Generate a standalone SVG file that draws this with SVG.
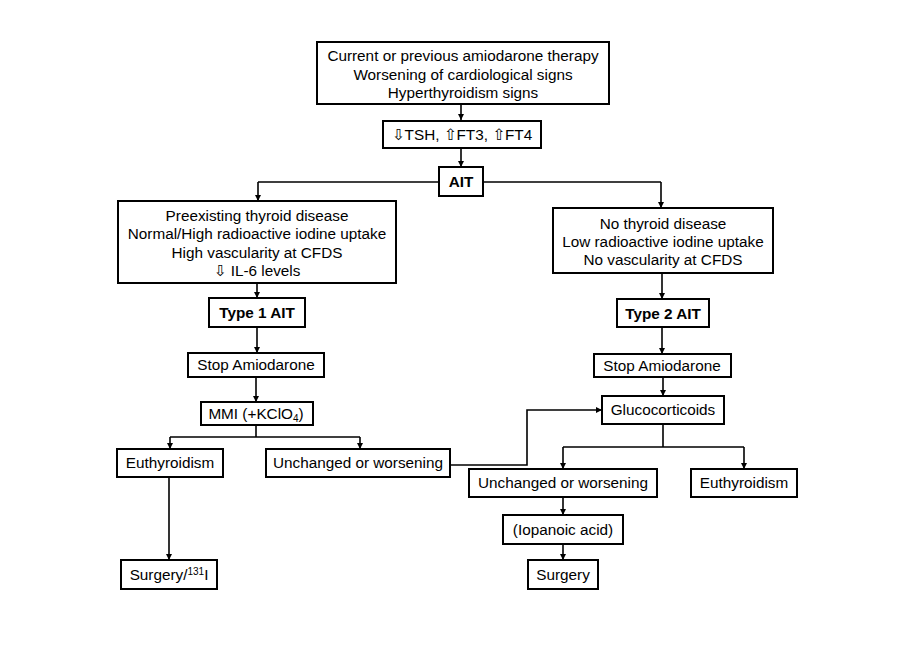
<svg xmlns="http://www.w3.org/2000/svg" width="923" height="652" viewBox="0 0 923 652">
<style>
.b{fill:#fff;stroke:#000;stroke-width:2}
.t{font-family:"Liberation Sans","DejaVu Sans",Arial,sans-serif;font-size:15.3px;fill:#000;text-anchor:middle}
.bold{font-weight:bold}
.c{fill:none;stroke:#000;stroke-width:1.6}
</style>
<defs>
<marker id="a" viewBox="0 0 10 10" refX="10" refY="5" markerWidth="6" markerHeight="6" orient="auto" markerUnits="userSpaceOnUse">
<path d="M0,0 L10,5 L0,10 z" fill="#000"/>
</marker>
</defs>
<rect width="923" height="652" fill="#fff"/>
<g id="connectors">
<path class="c" d="M461,104 V120" marker-end="url(#a)"/>
<path class="c" d="M461,149 V167" marker-end="url(#a)"/>
<path class="c" d="M258,182 H439 M483,182 H661"/>
<path class="c" d="M258,182 V201" marker-end="url(#a)"/>
<path class="c" d="M661,182 V208" marker-end="url(#a)"/>
<path class="c" d="M257,283 V298" marker-end="url(#a)"/>
<path class="c" d="M662,273 V299" marker-end="url(#a)"/>
<path class="c" d="M257,327 V353" marker-end="url(#a)"/>
<path class="c" d="M662,327 V354" marker-end="url(#a)"/>
<path class="c" d="M256,377 V402" marker-end="url(#a)"/>
<path class="c" d="M663,377 V396" marker-end="url(#a)"/>
<path class="c" d="M256,425 V437 M170,437 H360"/>
<path class="c" d="M170,437 V449" marker-end="url(#a)"/>
<path class="c" d="M360,437 V449" marker-end="url(#a)"/>
<path class="c" d="M450,465 H527 V410 H602" marker-end="url(#a)"/>
<path class="c" d="M663,424 V447 M563,447 H744"/>
<path class="c" d="M563,447 V469" marker-end="url(#a)"/>
<path class="c" d="M744,447 V469" marker-end="url(#a)"/>
<path class="c" d="M169,477 V560" marker-end="url(#a)"/>
<path class="c" d="M563,497 V515" marker-end="url(#a)"/>
<path class="c" d="M563,544 V560" marker-end="url(#a)"/>
</g>
<g id="n1"><rect class="b" x="317" y="42" width="292" height="62"/>
<text class="t" x="463" y="61">Current or previous amiodarone therapy</text>
<text class="t" x="463" y="80">Worsening of cardiological signs</text>
<text class="t" x="463" y="98">Hyperthyroidism signs</text></g>
<g id="n2"><rect class="b" x="383" y="121" width="158" height="27"/>
<text class="t" x="462" y="140">⇩TSH, ⇧FT3, ⇧FT4</text></g>
<g id="n3"><rect class="b" x="439" y="167" width="44" height="29"/>
<text class="t bold" x="461" y="187">AIT</text></g>
<g id="n4"><rect class="b" x="118" y="201" width="278" height="82"/>
<text class="t" x="257" y="221">Preexisting thyroid disease</text>
<text class="t" x="257" y="239">Normal/High radioactive iodine uptake</text>
<text class="t" x="257" y="258">High vascularity at CFDS</text>
<text class="t" x="257" y="276">⇩ IL-6 levels</text></g>
<g id="n5"><rect class="b" x="553" y="208" width="220" height="65"/>
<text class="t" x="663" y="229">No thyroid disease</text>
<text class="t" x="663" y="247">Low radioactive iodine uptake</text>
<text class="t" x="663" y="265">No vascularity at CFDS</text></g>
<g id="n6"><rect class="b" x="209" y="298" width="96" height="29"/>
<text class="t bold" x="257" y="318">Type 1 AIT</text></g>
<g id="n7"><rect class="b" x="617" y="299" width="92" height="28"/>
<text class="t bold" x="663" y="319">Type 2 AIT</text></g>
<g id="n8"><rect class="b" x="188" y="353" width="136" height="24"/>
<text class="t" x="256" y="370">Stop Amiodarone</text></g>
<g id="n9"><rect class="b" x="594" y="354" width="137" height="23"/>
<text class="t" x="662" y="371">Stop Amiodarone</text></g>
<g id="n10"><rect class="b" x="201" y="402" width="112" height="23"/>
<text class="t" x="256" y="419">MMI (+KClO<tspan font-size="10" dy="3">4</tspan><tspan dy="-3">)</tspan></text></g>
<g id="n11"><rect class="b" x="602" y="396" width="122" height="28"/>
<text class="t" x="663" y="415">Glucocorticoids</text></g>
<g id="n12"><rect class="b" x="117" y="449" width="106" height="28"/>
<text class="t" x="170" y="468">Euthyroidism</text></g>
<g id="n13"><rect class="b" x="266" y="449" width="184" height="28"/>
<text class="t" x="358" y="468">Unchanged or worsening</text></g>
<g id="n14"><rect class="b" x="469" y="469" width="188" height="28"/>
<text class="t" x="563" y="488">Unchanged or worsening</text></g>
<g id="n15"><rect class="b" x="691" y="469" width="106" height="28"/>
<text class="t" x="744" y="488">Euthyroidism</text></g>
<g id="n16"><rect class="b" x="503" y="515" width="120" height="29"/>
<text class="t" x="563" y="535">(Iopanoic acid)</text></g>
<g id="n17"><rect class="b" x="528" y="560" width="70" height="29"/>
<text class="t" x="563" y="580">Surgery</text></g>
<g id="n18"><rect class="b" x="121" y="560" width="96" height="29"/>
<text class="t" x="169" y="580">Surgery/<tspan font-size="10" dy="-5">131</tspan><tspan dy="5">I</tspan></text></g>
</svg>
